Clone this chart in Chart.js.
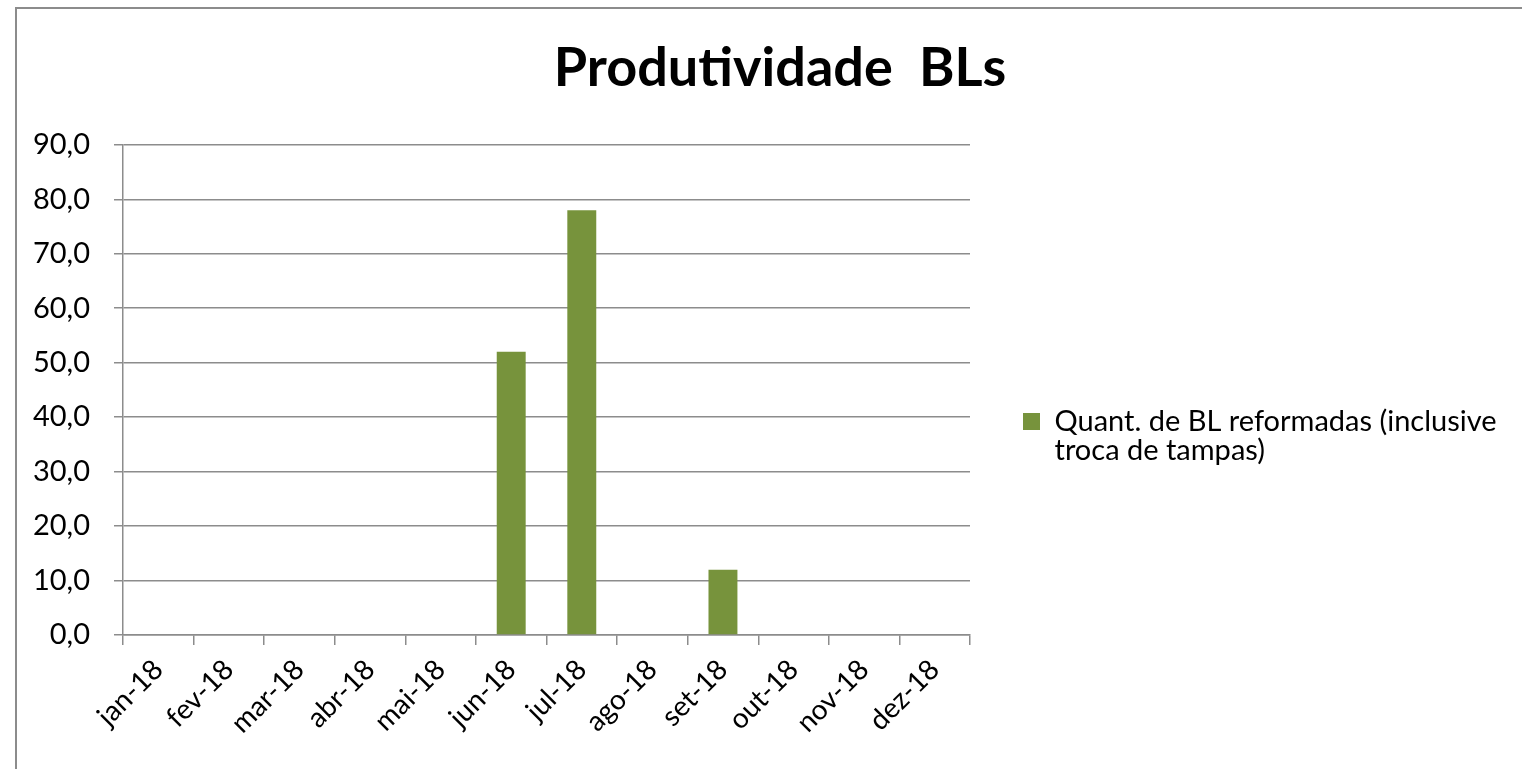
<!DOCTYPE html>
<html>
<head>
<meta charset="utf-8">
<title>Produtividade BLs</title>
<script src="https://cdn.jsdelivr.net/npm/chart.js@4.4.1/dist/chart.umd.min.js"></script>
<style>
  html, body { margin: 0; padding: 0; background: #fff; overflow: hidden; }
  #frame {
    position: absolute; left: 15px; top: 7px;
    width: 1700px; height: 1000px;
    border-top: 2px solid #8c8c8c; border-left: 2px solid #8c8c8c;
  }
  #wrap { position: absolute; left: 0; top: 0; width: 1526px; height: 854px; }
</style>
</head>
<body>
<div id="frame"><div id="wrap"><canvas id="chart"></canvas></div></div>
<script>
const months = ['jan-18','fev-18','mar-18','abr-18','mai-18','jun-18','jul-18','ago-18','set-18','out-18','nov-18','dez-18'];
const reformadas = [0, 0, 0, 0, 0, 52, 78, 0, 12, 0, 0, 0];
const legendLines = ['Quant. de BL reformadas (inclusive', 'troca de tampas)'];
const yMin = 0, yMax = 90, yStep = 10;

const green = '#77933c';
const gridGray = '#8c8c8c';
const font = 'Lato, "Open Sans", sans-serif';

new Chart(document.getElementById('chart'), {
  type: 'bar',
  data: {
    labels: months,
    datasets: [{
      label: legendLines.join(' '),
      data: reformadas,
      backgroundColor: green,
      borderWidth: 0,
      categoryPercentage: 1,
      barPercentage: 0.41
    }]
  },
  options: {
    responsive: true,
    maintainAspectRatio: false,
    animation: false,
    layout: { autoPadding: false, padding: 0 },
    plugins: {
      title: {
        display: true,
        text: 'Produtividade  BLs',
        color: '#000',
        font: { family: font, size: 54, weight: 'bold', lineHeight: 1.2 },
        padding: { top: 27, bottom: 44 }
      },
      legend: {
        position: 'right',
        maxWidth: 700,
        labels: {
          boxWidth: 17, boxHeight: 17, padding: 53,
          color: '#000',
          font: { family: font, size: 29, lineHeight: 1.0 },
          generateLabels: (chart) => {
            const items = Chart.defaults.plugins.legend.labels.generateLabels(chart);
            items[0].text = legendLines;
            return items;
          }
        }
      },
      tooltip: { enabled: false }
    },
    scales: {
      x: {
        offset: true,
        grid: { drawOnChartArea: false, drawTicks: true, tickLength: 10, color: gridGray, lineWidth: 1.5, offset: true },
        border: { display: true, color: gridGray, width: 1.5 },
        ticks: { color: '#000', font: { family: font, size: 28 }, minRotation: 45, maxRotation: 45, autoSkip: false, padding: 8 },
        afterFit: (scale) => { scale.height = 228; }
      },
      y: {
        min: yMin, max: yMax,
        grid: { color: gridGray, lineWidth: 1.5, tickLength: 9 },
        border: { display: true, color: gridGray, width: 1.5 },
        ticks: {
          stepSize: yStep, color: '#000', padding: 24,
          font: { family: font, size: 29 },
          callback: (v) => v.toFixed(1).replace('.', ',')
        },
        afterFit: (scale) => { scale.width = 106; }
      },
      // empty spacer right of the legend, keeps plot right edge where Excel had it
      yPad: {
        type: 'linear',
        position: 'right',
        weight: 2000,
        grid: { display: false },
        border: { display: false },
        ticks: { display: false },
        afterFit: (scale) => { scale.width = Math.max(0, 573 - scale.chart.legend.width); }
      }
    }
  }
});
</script>
</body>
</html>
